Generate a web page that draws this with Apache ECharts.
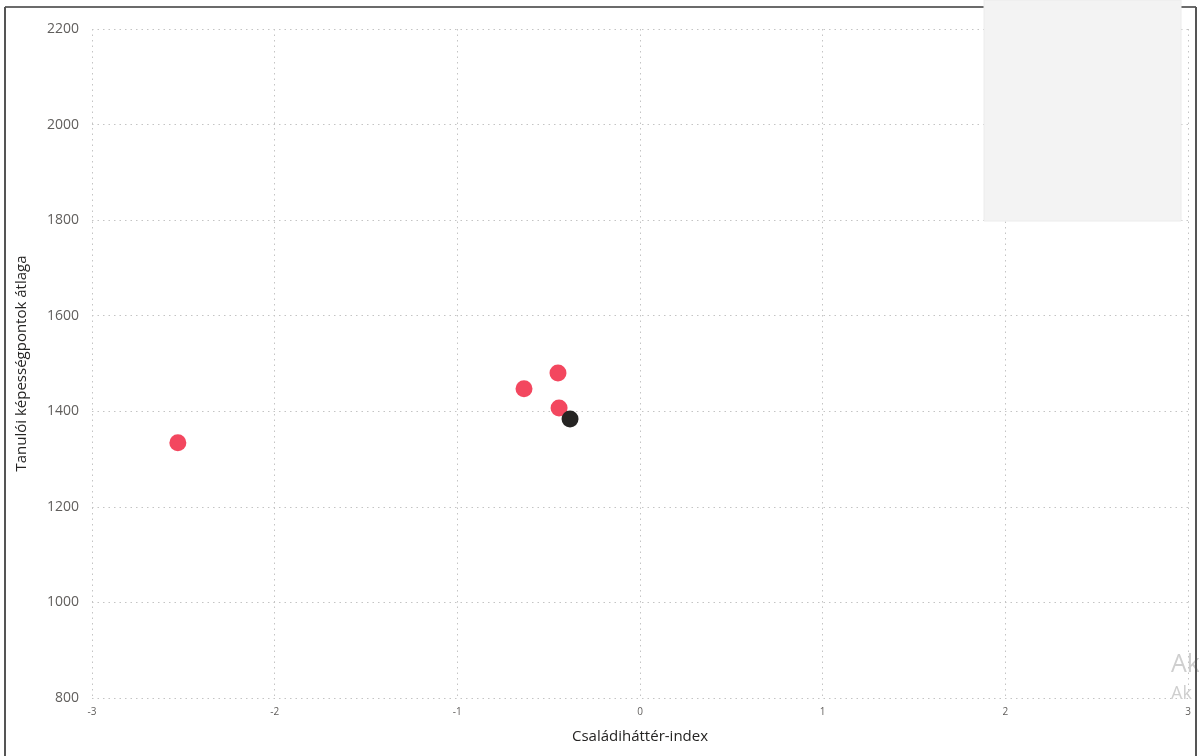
<!DOCTYPE html>
<html>
<head>
<meta charset="utf-8">
<script src="https://cdn.jsdelivr.net/npm/echarts@6/dist/echarts.min.js"></script>
<style>
html,body{margin:0;padding:0;background:#fff;}
#c{width:1199px;height:756px;}
</style>
</head>
<body>
<div id="c"></div>
<script>
// Data
const redX = [-2.53, -0.635, -0.449, -0.443];
const redY = [1334, 1447, 1480, 1407];
const blackX = [-0.383];
const blackY = [1384];
const xTitle = 'Családiháttér-index';
const yTitle = 'Tanulói képességpontok átlaga';

const chart = echarts.init(document.getElementById('c'), null, {renderer: 'canvas'});
const font = '"Open Sans", "Noto Sans", sans-serif';
const gridLine = {show: true, lineStyle: {color: '#c4c4c4', type: [1.5, 4], width: 1}};
chart.setOption({
  animation: false,
  backgroundColor: '#ffffff',
  grid: {left: 92, right: 11, top: 29, bottom: 58},
  xAxis: {
    type: 'value', min: -3, max: 3, interval: 1,
    name: xTitle, nameLocation: 'middle', nameGap: 31,
    nameTextStyle: {fontFamily: font, fontSize: 15, color: '#252423'},
    axisLine: {show: false}, axisTick: {show: false},
    axisLabel: {fontFamily: font, fontSize: 10, color: '#605e5c', margin: 9, showMinLabel: true, showMaxLabel: true,
      formatter: v => String(v)},
    splitLine: gridLine
  },
  yAxis: {
    type: 'value', min: 800, max: 2200, interval: 200,
    name: yTitle, nameLocation: 'middle', nameGap: 63,
    nameTextStyle: {fontFamily: font, fontSize: 15, color: '#252423'},
    axisLine: {show: false}, axisTick: {show: false},
    axisLabel: {fontFamily: font, fontSize: 14, color: '#605e5c', margin: 13, formatter: v => String(v)},
    splitLine: gridLine
  },
  series: [
    {type: 'scatter', symbolSize: 17, itemStyle: {color: '#f3475f', opacity: 1},
     data: redX.map((x, i) => [x, redY[i]])},
    {type: 'scatter', symbolSize: 17, itemStyle: {color: '#252423', opacity: 1},
     data: blackX.map((x, i) => [x, blackY[i]])}
  ],
  graphic: [
    {type: 'line', shape: {x1: 5, y1: 7, x2: 1196, y2: 7}, style: {stroke: '#3a3a3a', lineWidth: 1.5}, z: 100},
    {type: 'line', shape: {x1: 5, y1: 7, x2: 5, y2: 756}, style: {stroke: '#555', lineWidth: 2}, z: 100},
    {type: 'line', shape: {x1: 1196, y1: 7, x2: 1196, y2: 756}, style: {stroke: '#555', lineWidth: 2}, z: 100},
    {type: 'rect', shape: {x: 984, y: 0, width: 197, height: 221}, style: {fill: '#f3f3f3', stroke: '#ececec', lineWidth: 1}, z: 110},
    {type: 'text', left: 1171, top: 652, style: {text: 'Ak', fontFamily: font, fontSize: 25, fill: '#cfcfcf'}, z: 90},
    {type: 'text', left: 1171, top: 685, style: {text: 'Ak', fontFamily: font, fontSize: 18, fill: '#cfcfcf'}, z: 90}
  ]
});
</script>
</body>
</html>
